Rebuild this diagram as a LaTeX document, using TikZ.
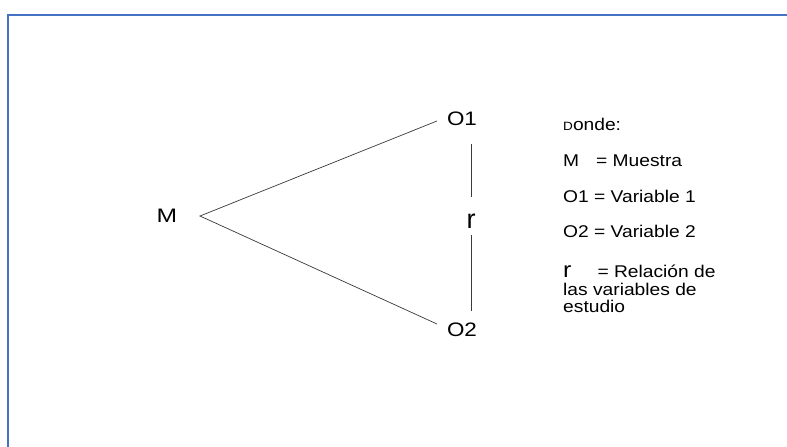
\documentclass[tikz,border=0pt]{standalone}
\usepackage{fontspec}
\setmainfont{Liberation Sans}
\definecolor{frameblue}{HTML}{4472C4}
\definecolor{linegray}{HTML}{3A3A3A}
\begin{document}
\begin{tikzpicture}[x=1pt,y=-1pt,
  mainlabel/.style={inner sep=0pt,xscale=1.15,font=\fontsize{19.5}{21}\selectfont},
  rlabel/.style={inner sep=0pt,font=\fontsize{27}{28}\selectfont},
  legend/.style={inner sep=0pt,anchor=base west,xscale=1.13,font=\fontsize{17}{19}\selectfont},
  conn/.style={draw=linegray,line width=0.7pt}]
\useasboundingbox (0,0) rectangle (787,447);
\fill[white] (0,0) rectangle (787,447);
% frame
\draw[frameblue,line width=2pt] (8,448) -- (8,15) -- (788,15);
% main nodes
\node[mainlabel,anchor=base,xscale=1.1] (M) at (167,222) {M};
\node[mainlabel,anchor=base] (O1) at (462,125) {O1};
\node[mainlabel,anchor=base] (O2) at (462,336) {O2};
\node[rlabel,anchor=base] (r) at (471,228) {r};
% connector end points
\coordinate (mv) at (200,216);
\coordinate (o1w) at (437,121);
\coordinate (o2w) at (437,324);
\coordinate (o1s) at (471,144);
\coordinate (o2n) at (471,311);
\coordinate (rn) at (471,197);
\coordinate (rs) at (471,235);
\draw[conn] (o1w) -- (mv) -- (o2w);
\draw[conn] (o1s) -- (rn);
\draw[conn] (rs) -- (o2n);
% legend
\node[legend] (donde) at (563,130) {{\fontsize{12}{12}\selectfont D}onde:};
\node[legend] (lm) at (563,166) {M\hspace{15pt}= Muestra};
\node[legend] (lo1) at (563,202) {O1 = Variable 1};
\node[legend] (lo2) at (563,237) {O2 = Variable 2};
\node[legend] (lr) at (563,277) {{\fontsize{22}{22}\selectfont r}\hspace{23pt}= Relación de};
\node[legend] (lr2) at (563,295) {las variables de};
\node[legend] (lr3) at (563,312) {estudio};
\end{tikzpicture}
\end{document}
